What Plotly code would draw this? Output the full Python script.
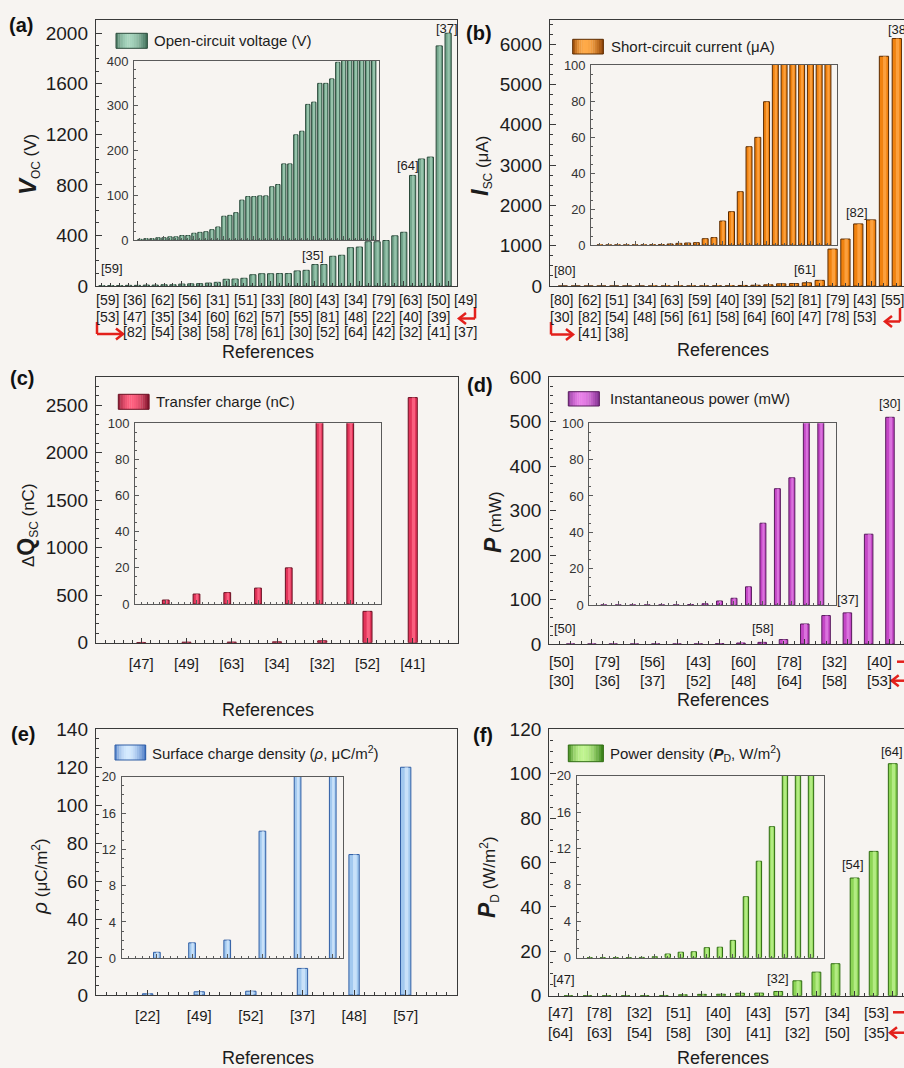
import math
import plotly.graph_objects as go

W, H = 904, 1068
FONT = "Liberation Sans, Arial, Helvetica, sans-serif"
BG = "#f7f4f1"
TXT = "#1c1c1c"
FRAME = "#3a3a3a"
IFRAME = "#5a5a5a"

# ---------------- data (bars in ascending order, x = rank) ----------------
# (a) open-circuit voltage, V
voc_values = [1.5, 3, 3, 5, 5, 7, 7, 10, 10, 15, 17, 18.5, 23, 29, 53, 55, 61, 89, 97, 97,
              98.5, 98.5, 119, 124, 170, 170, 235, 243, 303, 308, 350, 350, 360, 397, 425,
              875, 1005, 1020, 1900, 2000]
voc_ref_rows = [
    ["[59]", "[36]", "[62]", "[56]", "[31]", "[51]", "[33]", "[80]", "[43]", "[34]", "[79]", "[63]", "[50]", "[49]"],
    ["[53]", "[47]", "[35]", "[34]", "[60]", "[62]", "[57]", "[55]", "[81]", "[48]", "[22]", "[40]", "[39]"],
    ["[82]", "[54]", "[38]", "[58]", "[78]", "[61]", "[30]", "[52]", "[64]", "[42]", "[32]", "[41]", "[37]"],
]
voc_callouts = [(1, "[59]"), (25, "[35]"), (36, "[64]"), (40, "[37]")]

# (b) short-circuit current, uA
isc_values = [0.02, 0.02, 0.03, 0.03, 0.05, 0.05, 0.1, 0.2, 0.55, 0.9, 1.1, 1.3, 3.5, 4.1,
              13.3, 18.5, 29.6, 54.6, 59.8, 79.6, 140, 915, 1165, 1540, 1640, 5700, 6140]
isc_ref_rows = [
    ["[80]", "[62]", "[51]", "[34]", "[63]", "[59]", "[40]", "[39]", "[52]", "[81]", "[79]", "[43]", "[55]"],
    ["[30]", "[82]", "[54]", "[48]", "[56]", "[61]", "[58]", "[64]", "[60]", "[47]", "[78]", "[53]"],
    ["[41]", "[38]"],
]
isc_callouts = [(1, "[80]"), (21, "[61]"), (24, "[82]"), (27, "[38]")]

# (c) transfer charge, nC
dq_refs = ["[47]", "[49]", "[63]", "[34]", "[32]", "[52]", "[41]"]
dq_values = [2.2, 5.5, 6.3, 8.8, 20, 330, 2580]

# (d) instantaneous power, mW
p_values = [0.02, 0.02, 0.03, 0.03, 0.05, 0.05, 0.2, 0.7, 2.2, 3.7, 10, 45, 64, 70, 247, 510]
p_ref_rows = [
    ["[50]", "[79]", "[56]", "[43]", "[60]", "[78]", "[32]", "[40]"],
    ["[30]", "[36]", "[37]", "[52]", "[48]", "[64]", "[58]", "[53]"],
]
p_callouts = [(1, "[50]"), (10, "[58]"), (14, "[37]"), (16, "[30]")]

# (e) surface charge density, uC/m2
rho_refs = ["[22]", "[49]", "[52]", "[37]", "[48]", "[57]"]
rho_values = [0.66, 1.7, 2.0, 14, 74, 120]

# (f) power density, W/m2
pd_values = [0.01, 0.01, 0.02, 0.02, 0.03, 0.1, 0.4, 0.6, 0.65, 1.1, 1.15, 1.9, 6.7, 10.6,
             14.4, 53, 65, 104.5]
pd_ref_rows = [
    ["[47]", "[78]", "[32]", "[51]", "[40]", "[43]", "[57]", "[34]", "[53]"],
    ["[64]", "[63]", "[54]", "[58]", "[30]", "[41]", "[32]", "[50]", "[35]"],
]
pd_callouts = [(1, "[47]"), (12, "[32]"), (16, "[54]"), (18, "[64]")]

# ---------------- layout / style ----------------
panels = [
    dict(tag="(a)", tagpos=(21, 25), vals=voc_values, refs=None, rows=voc_ref_rows,
         rowcfg=dict(c0=107, dx=27.6, ys=[300, 316.5, 332], off=[0, 0, 1], size=14),
         callouts=voc_callouts, coff=[(9.7, 17.5), (-1.6, 9.5), (-4.2, 9.7), (-1.2, 5)],
         color="#74a68d", edge="#2b4a3b", hl="#9fcab3", dark="#3a6a54", light="#a8d5be",
         main=(96, 457, 20, 286), inset=(134, 379.3, 61, 240),
         xr=[0.33, 41.0], yr=[0, 2105], ixr=[0, 40.93], iyr=[0, 400],
         ydt=400, ymdt=100, iydt=100, iymdt=20, xdt=5, xmdt=1, ixdt=5, ixmdt=1,
         w=0.7, iw=0.72, mirror=True,
         legend="Open-circuit voltage (V)", leg=(116, 147.3, 33.3, 48.3), legtx=151.7,
         ytitle="<span style='font-size:24px'><b><i>V</i></b></span><sub>OC</sub> (V)",
         ytpos=(28, 165), reftitle=(268, 351.7)),
    dict(tag="(b)", tagpos=(479, 33), vals=isc_values, refs=None, rows=isc_ref_rows,
         rowcfg=dict(c0=561.7, dx=27.57, ys=[300, 316.7, 333.3], off=[0, 0, 1], size=14),
         callouts=isc_callouts, coff=[(2, 16), (-15, 10.4), (-1.7, 11.3), (2, 9.4)],
         color="#f0820f", edge="#5a2a00", hl="#ffa748", dark="#8a3c00", light="#ffaa48",
         main=(550, 904, 20, 286), inset=(591.2, 836.7, 65, 245),
         xr=[0, 27.56], yr=[0, 6600], ixr=[0, 28], iyr=[0, 100],
         ydt=1000, ymdt=250, iydt=20, iymdt=5, xdt=5, xmdt=1, ixdt=5, ixmdt=1,
         w=0.72, iw=0.68, mirror=False,
         legend="Short-circuit current (μA)", leg=(572.7, 603.3, 39.3, 54), legtx=609.3,
         ytitle="<span style='font-size:24px'><b><i>I</i></b></span><sub>SC</sub> (μA)",
         ytpos=(480, 166), reftitle=(723, 350)),
    dict(tag="(c)", tagpos=(22, 378), vals=dq_values, refs=dq_refs, rows=None,
         callouts=[], coff=[],
         color="#e2345a", edge="#6a0f22", hl="#ff6a88", dark="#7a1028", light="#ff6080",
         main=(96, 458, 376.7, 642.7), inset=(135, 381, 423.3, 604),
         xr=[0, 8], yr=[0, 2800], ixr=[0, 8], iyr=[0, 100],
         ydt=500, ymdt=100, iydt=20, iymdt=5, xdt=1, xmdt=0.2, ixdt=1, ixmdt=0.2,
         w=0.2, iw=0.22, mirror=True,
         legend="Transfer charge (nC)", leg=(118.3, 149, 394.3, 409.3), legtx=154,
         ytitle="Δ<span style='font-size:23px'><b>Q</b></span><sub>SC</sub> (nC)",
         ytpos=(27, 525), reftitle=(268, 710)),
    dict(tag="(d)", tagpos=(480, 385), vals=p_values, refs=None, rows=p_ref_rows,
         rowcfg=dict(c0=561.7, dx=45.47, ys=[661.7, 680.7], off=[0, 0], size=15),
         callouts=p_callouts, coff=[(-5.3, 15.7), (1, 14.1), (0.7, 13.6), (0, 14)],
         color="#c447c6", edge="#571a5c", hl="#e07ee2", dark="#7a2a8a", light="#e880e8",
         main=(549.3, 904, 377.3, 644), inset=(589.3, 836, 423.3, 605),
         xr=[0, 16.66], yr=[0, 600], ixr=[0, 17.05], iyr=[0, 100],
         ydt=100, ymdt=20, iydt=20, iymdt=5, xdt=2, xmdt=0.5, ixdt=2, ixmdt=0.5,
         w=0.4, iw=0.41, mirror=False,
         legend="Instantaneous power (mW)", leg=(568.3, 599.3, 391.7, 406), legtx=608,
         ytitle="<span style='font-size:23px'><b><i>P</i></b></span> (mW)",
         ytpos=(493, 522), reftitle=(722.5, 700)),
    dict(tag="(e)", tagpos=(23, 734), vals=rho_values, refs=rho_refs, rows=None,
         callouts=[], coff=[],
         color="#a3c9ef", edge="#2f5da4", hl="#d2e7fb", dark="#3d6fc0", light="#d4eaff",
         main=(96, 457.3, 729.3, 995), inset=(121.7, 343.3, 776.7, 958.3),
         xr=[0, 7], yr=[0, 140], ixr=[0, 6.3], iyr=[0, 20],
         ydt=20, ymdt=5, iydt=4, iymdt=1, xdt=1, xmdt=0.2, ixdt=1, ixmdt=0.2,
         w=0.2, iw=0.19, mirror=True,
         legend="Surface charge density (<i>ρ</i>, μC/m<sup>2</sup>)", leg=(115, 145.7, 745, 760), legtx=150,
         ytitle="<span style='font-size:21px'><i>ρ</i></span> (μC/m<sup>2</sup>)",
         ytpos=(39, 877), reftitle=(268, 1058.3)),
    dict(tag="(f)", tagpos=(483, 735), vals=pd_values, refs=None, rows=pd_ref_rows,
         rowcfg=dict(c0=560, dx=39.6, ys=[1012.3, 1032.7], off=[0, 0], size=15),
         callouts=pd_callouts, coff=[(-4, 16.4), (0, 13.2), (-1.2, 14), (-1, 12)],
         color="#8dd556", edge="#2d6a10", hl="#bdf08e", dark="#2f7a10", light="#c0f490",
         main=(549.3, 904, 729.3, 995.7), inset=(576.7, 824, 775.7, 957.7),
         xr=[0, 18.59], yr=[0, 120], ixr=[0, 19], iyr=[0, 20],
         ydt=20, ymdt=5, iydt=4, iymdt=1, xdt=2, xmdt=0.5, ixdt=2, ixmdt=0.5,
         w=0.46, iw=0.41, mirror=False,
         legend="Power density (<b><i>P</i></b><sub>D</sub>, W/m<sup>2</sup>)", leg=(568.3, 603.3, 745, 761.7), legtx=608.3,
         ytitle="<span style='font-size:23px'><b><i>P</i></b></span><sub>D</sub> (W/m<sup>2</sup>)",
         ytpos=(488, 877), reftitle=(722.5, 1058.3)),
]

# red reading-order arrows (pixel positions)
arrows = [
    ("elbow", 475, 307, 318.5, 459),
    ("elbow", 97, 322, 334, 123),
    ("elbow", 900, 308, 321.5, 885),
    ("elbow", 551, 322, 334.5, 573),
    ("line", 897, 904, 661.7), ("head", 904, 891.7, 680.7),
    ("line", 893, 904, 1012.3), ("head", 904, 890, 1032.7),
]


def X(p):
    return p / W


def Y(p):
    return 1 - p / H


def sfx(n):
    return "" if n == 1 else str(n)


def mix(c1, c2, t):
    a = [int(c1[k:k + 2], 16) for k in (1, 3, 5)]
    b = [int(c2[k:k + 2], 16) for k in (1, 3, 5)]
    return "#%02x%02x%02x" % tuple(round(a[k] + (b[k] - a[k]) * t) for k in range(3))


fig = go.Figure()
layout = dict(width=W, height=H, margin=dict(l=0, r=0, t=0, b=0),
              paper_bgcolor=BG, plot_bgcolor=BG, showlegend=False, barmode="overlay",
              font=dict(family=FONT, color=TXT))
ann = []
shp = []

for i, P in enumerate(panels):
    m, n = 2 * i + 1, 2 * i + 2
    pos = list(range(1, len(P["vals"]) + 1))
    x0, x1, y0, y1 = P["main"]
    ix0, ix1, iy0, iy1 = P["inset"]

    xa = dict(domain=[X(x0), X(x1)], range=P["xr"], anchor="y" + sfx(m),
              showline=True, linecolor=FRAME, linewidth=1.4, mirror=True,
              ticks="inside", ticklen=5, tickwidth=1, tickcolor=FRAME,
              tick0=0, dtick=P["xdt"], showgrid=False, zeroline=False,
              minor=dict(tick0=0, dtick=P["xmdt"], ticks="inside", ticklen=2.5,
                         tickcolor=FRAME, showgrid=False),
              showticklabels=False, automargin=False)
    if P["refs"] is not None:
        xa.update(tickmode="array", tickvals=pos, ticktext=P["refs"], showticklabels=True,
                  tickfont=dict(size=15, color=TXT), ticklabelstandoff=7)
        xa["minor"]["tickmode"] = "linear"
    ya = dict(domain=[Y(y1), Y(y0)], range=P["yr"], anchor="x" + sfx(m),
              showline=True, linecolor=FRAME, linewidth=1.4, mirror=P["mirror"],
              ticks="inside", ticklen=6, tickwidth=1, tickcolor=FRAME,
              tick0=0, dtick=P["ydt"], showgrid=False, zeroline=False,
              minor=dict(tick0=0, dtick=P["ymdt"], ticks="inside", ticklen=3,
                         tickcolor=FRAME, showgrid=False),
              tickfont=dict(size=19, color=TXT), ticklabelstandoff=3, automargin=False)
    layout["xaxis" + sfx(m)] = xa
    layout["yaxis" + sfx(m)] = ya

    ixa = dict(domain=[X(ix0), X(ix1)], range=P["ixr"], anchor="y" + sfx(n),
               showline=True, linecolor=IFRAME, linewidth=1, mirror=True,
               ticks="inside", ticklen=4, tickwidth=1, tickcolor=IFRAME,
               tick0=0, dtick=P["ixdt"], showgrid=False, zeroline=False,
               minor=dict(tick0=0, dtick=P["ixmdt"], ticks="inside", ticklen=2,
                          tickcolor=IFRAME, showgrid=False),
               showticklabels=False, automargin=False)
    iya = dict(domain=[Y(iy1), Y(iy0)], range=P["iyr"], anchor="x" + sfx(n),
               showline=True, linecolor=IFRAME, linewidth=1, mirror=True,
               ticks="inside", ticklen=4, tickwidth=1, tickcolor=IFRAME,
               tick0=0, dtick=P["iydt"], showgrid=False, zeroline=False,
               minor=dict(tick0=0, dtick=P["iymdt"], ticks="inside", ticklen=2,
                          tickcolor=IFRAME, showgrid=False),
               tickfont=dict(size=13, color="#333333"), ticklabelstandoff=2, automargin=False)
    layout["xaxis" + sfx(n)] = ixa
    layout["yaxis" + sfx(n)] = iya

    for ax, wd in ((m, P["w"]), (n, P["iw"])):
        fig.add_trace(go.Bar(x=pos, y=P["vals"], width=wd,
                             marker=dict(color=P["color"], line=dict(color=P["edge"], width=1)),
                             xaxis="x" + sfx(ax), yaxis="y" + sfx(ax), hoverinfo="skip"))
        fig.add_trace(go.Bar(x=pos, y=P["vals"], width=wd * 0.36, offset=-wd * 0.1,
                             marker=dict(color=P["hl"], line=dict(width=0), opacity=0.8),
                             xaxis="x" + sfx(ax), yaxis="y" + sfx(ax), hoverinfo="skip"))

    for (b, t), (dx, dy) in zip(P["callouts"], P["coff"]):
        ann.append(dict(x=b, y=P["vals"][b - 1], xref="x" + sfx(m), yref="y" + sfx(m),
                        text=t, showarrow=False, xshift=dx, yshift=dy,
                        xanchor="center", yanchor="middle",
                        font=dict(size=13, color=TXT)))

    if P["rows"] is not None:
        rc = P["rowcfg"]
        for r, row in enumerate(P["rows"]):
            for c, t in enumerate(row):
                ann.append(dict(x=X(rc["c0"] + (c + rc["off"][r]) * rc["dx"]), y=Y(rc["ys"][r]),
                                xref="paper", yref="paper", text=t, showarrow=False,
                                xanchor="center", yanchor="middle",
                                font=dict(size=rc["size"], color=TXT)))

    ann.append(dict(x=X(P["reftitle"][0]), y=Y(P["reftitle"][1]), xref="paper", yref="paper",
                    text="References", showarrow=False, xanchor="center", yanchor="middle",
                    font=dict(size=18, color=TXT)))
    ann.append(dict(x=X(P["ytpos"][0]), y=Y(P["ytpos"][1]), xref="paper", yref="paper",
                    text=P["ytitle"], showarrow=False, textangle=-90,
                    xanchor="center", yanchor="middle", font=dict(size=17, color=TXT)))
    ann.append(dict(x=X(P["tagpos"][0]), y=Y(P["tagpos"][1]), xref="paper", yref="paper",
                    text="<b>" + P["tag"] + "</b>", showarrow=False,
                    xanchor="center", yanchor="middle", font=dict(size=20, color="#111111")))

    lx0, lx1, ly0, ly1 = P["leg"]
    ns = 14
    for k in range(ns):
        t = (k + 0.5) / ns
        b = math.sin(math.pi * t ** 0.8) ** 0.9
        shp.append(dict(type="rect", xref="paper", yref="paper",
                        x0=X(lx0 + (lx1 - lx0) * k / ns), x1=X(lx0 + (lx1 - lx0) * (k + 1) / ns + 0.3),
                        y0=Y(ly1), y1=Y(ly0), line=dict(width=0),
                        fillcolor=mix(P["dark"], P["light"], b), layer="above"))
    shp.append(dict(type="rect", xref="paper", yref="paper", x0=X(lx0), x1=X(lx1),
                    y0=Y(ly1), y1=Y(ly0), line=dict(color=P["edge"], width=1),
                    fillcolor="rgba(0,0,0,0)", layer="above"))
    ann.append(dict(x=X(P["legtx"]), y=Y((ly0 + ly1) / 2), xref="paper", yref="paper",
                    text=P["legend"], showarrow=False, xanchor="left", yanchor="middle",
                    font=dict(size=15, color=TXT)))

RED = "#e3201b"


def head(xh, yy, direction):
    s = 7 * direction  # direction: +1 tail to the right (points left), -1 points right
    return dict(type="path", xref="paper", yref="paper",
                path="M %f %f L %f %f L %f %f" % (X(xh + s), Y(yy - 5.5), X(xh), Y(yy), X(xh + s), Y(yy + 5.5)),
                line=dict(color=RED, width=2.5))


def hline(xa_, xb_, yy):
    return dict(type="line", xref="paper", yref="paper", x0=X(xa_), x1=X(xb_),
                y0=Y(yy), y1=Y(yy), line=dict(color=RED, width=2.5))


for a in arrows:
    if a[0] == "elbow":
        _, xv, ytop, ycor, xh = a
        shp.append(dict(type="line", xref="paper", yref="paper", x0=X(xv), x1=X(xv),
                        y0=Y(ytop), y1=Y(ycor), line=dict(color=RED, width=2.5)))
        shp.append(hline(xv, xh, ycor))
        shp.append(head(xh, ycor, 1 if xv > xh else -1))
    elif a[0] == "line":
        _, xa_, xb_, yy = a
        shp.append(hline(xa_, xb_, yy))
    else:
        _, xt, xh, yy = a
        shp.append(hline(xt, xh, yy))
        shp.append(head(xh, yy, 1 if xt > xh else -1))

layout["annotations"] = ann
layout["shapes"] = shp
fig.update_layout(**layout)
fig.write_html("out.html", config={"displayModeBar": False},
               post_script="document.body.style.margin='0';document.body.style.overflow='hidden';")
